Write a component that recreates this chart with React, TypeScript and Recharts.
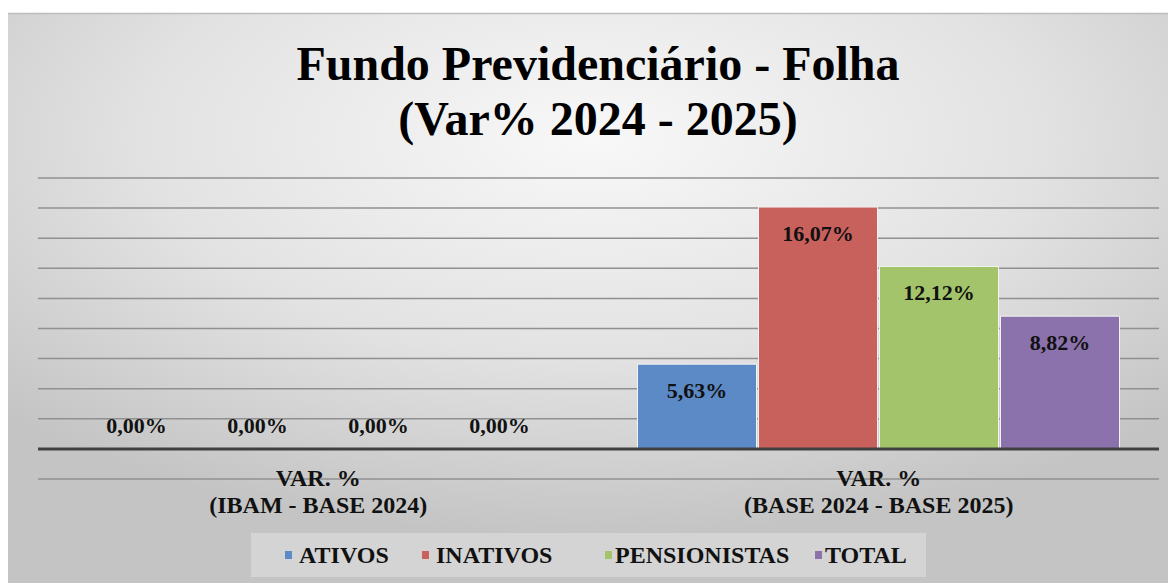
import React from "react";
import { BarChart, Bar, XAxis, YAxis, CartesianGrid, ReferenceLine, LabelList } from "recharts";

const categories = ["VAR. %|(IBAM - BASE 2024)", "VAR. %|(BASE 2024 - BASE 2025)"];
const ativos = [0, 5.63];
const inativos = [0, 16.07];
const pensionistas = [0, 12.12];
const total = [0, 8.82];
const yTicks = [-2, 0, 2, 4, 6, 8, 10, 12, 14, 16, 18];
const seriesNames = ["ATIVOS", "INATIVOS", "PENSIONISTAS", "TOTAL"];
const seriesKeys = ["ativos", "inativos", "pensionistas", "total"];
const seriesColors = ["#5b8ac6", "#c8605c", "#a3c46a", "#8b72ac"];
const titleLines = ["Fundo Previdenciário - Folha", "(Var% 2024 - 2025)"];

const data = categories.map((c, i) => ({
  name: c,
  ativos: ativos[i],
  inativos: inativos[i],
  pensionistas: pensionistas[i],
  total: total[i],
}));

const FONT = "'Liberation Serif', 'Times New Roman', serif";
const W = 1168;
const H = 575;

const fmt = (v: number) => v.toFixed(2).replace(".", ",") + "%";

const BarLabel = (props: any) => {
  const { x, y, width, value } = props;
  const v = Number(value);
  const ty = v === 0 ? y - 16 : y + 34;
  return (
    <text x={x + width / 2} y={ty} textAnchor="middle" fontFamily={FONT} fontWeight="bold" fontSize={22} fill="#111">
      {fmt(v)}
    </text>
  );
};

const CatTick = (props: any) => {
  const { x, y, payload } = props;
  const lines = String(payload.value).split("|");
  return (
    <g>
      <text x={x} y={y + 7} textAnchor="middle" fontFamily={FONT} fontWeight="bold" fontSize={24} fill="#111">
        {lines[0]}
      </text>
      <text x={x} y={y + 34} textAnchor="middle" fontFamily={FONT} fontWeight="bold" fontSize={24} fill="#111">
        {lines[1]}
      </text>
    </g>
  );
};

const legendSquareX = [34, 171, 354, 564];
const legendTextX = [48, 185, 364, 574];

export default function App() {
  return (
    <div style={{ position: "relative", width: W, height: H }}>
      <svg width={W} height={H} style={{ position: "absolute", left: 0, top: 0 }}>
        <defs>
          <radialGradient id="bg" cx="50%" cy="22%" r="70%">
            <stop offset="0%" stopColor="#f8f8f8" />
            <stop offset="55%" stopColor="#e2e2e2" />
            <stop offset="100%" stopColor="#c4c4c4" />
          </radialGradient>
        </defs>
        <rect x={0} y={5} width={W} height={H - 5} fill="url(#bg)" />
        <line x1={0} y1={5.5} x2={W} y2={5.5} stroke="#bdbdbd" strokeWidth={1.5} />
        {titleLines.map((t, i) => (
          <text key={i} x={590} y={72 + i * 55} textAnchor="middle" fontFamily={FONT} fontWeight="bold" fontSize={48} fill="#000">
            {t}
          </text>
        ))}
      </svg>
      <div style={{ position: "absolute", left: 0, top: 0 }}>
        <BarChart
          width={W}
          height={H}
          data={data}
          margin={{ top: 170, right: 17, left: 30, bottom: 0 }}
          barCategoryGap={39}
          barGap={2}
        >
          <CartesianGrid vertical={false} stroke="#909090" strokeWidth={1.5} />
          <XAxis dataKey="name" axisLine={false} tickLine={false} tickSize={0} tickMargin={0} height={104} tick={<CatTick />} interval={0} />
          <YAxis hide domain={[-2, 18]} ticks={yTicks} width={0} />
          {seriesKeys.map((k, i) => (
            <Bar
              key={k}
              dataKey={k}
              name={seriesNames[i]}
              fill={seriesColors[i]}
              stroke="#f2f2f2"
              strokeWidth={1}
              minPointSize={0.01}
              isAnimationActive={false}
            >
              <LabelList dataKey={k} content={<BarLabel />} />
            </Bar>
          ))}
          <ReferenceLine y={0} stroke="#404040" strokeWidth={3} />
        </BarChart>
      </div>
      <div
        style={{
          position: "absolute",
          left: 243,
          top: 525,
          width: 675,
          height: 44,
          background: "rgba(255,255,255,0.28)",
          fontFamily: FONT,
          fontWeight: "bold",
          fontSize: 24,
          color: "#111",
        }}
      >
        {seriesNames.map((n, i) => (
          <React.Fragment key={n}>
            <span
              style={{
                position: "absolute",
                left: legendSquareX[i],
                top: 18,
                width: 7,
                height: 8,
                background: seriesColors[i],
              }}
            />
            <span style={{ position: "absolute", left: legendTextX[i], top: 7, lineHeight: "30px", whiteSpace: "nowrap" }}>{n}</span>
          </React.Fragment>
        ))}
      </div>
    </div>
  );
}
